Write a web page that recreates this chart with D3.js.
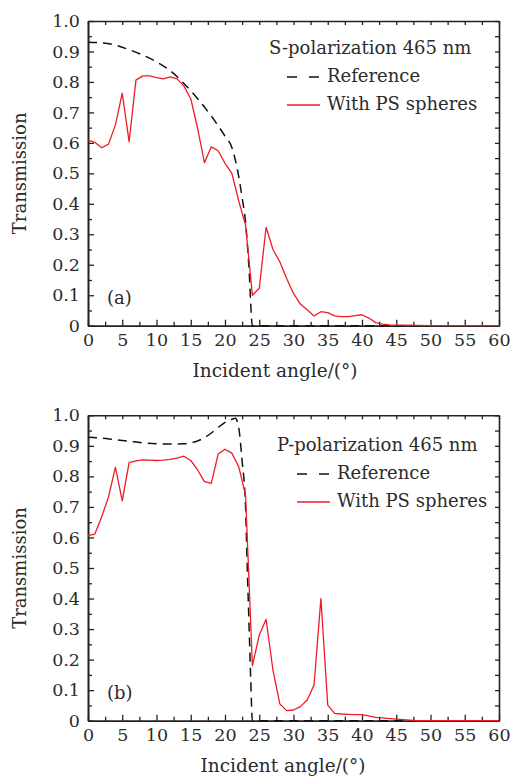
<!DOCTYPE html>
<html>
<head>
<meta charset="utf-8">
<script src="https://cdn.jsdelivr.net/npm/d3@7"></script>
<style>
  body { margin: 0; background: #fff; }
  text { font-family: "DejaVu Serif", serif; fill: #2b2b2b; }
</style>
</head>
<body>
<div id="chart"></div>
<script>
// angles (deg) and transmission values
var anglesS = [0,1,2,3,4,5,6,7,8,9,10,11,12,13,14,15,16,17,18,19,20,21,22,23,24,25,26,27,28,29,30,31,32,33,34,35,36,37,38,39,40,41,42,43,44,45,46,47,48,50,55,60];
var psS = [0.609,0.602,0.584,0.596,0.659,0.763,0.604,0.806,0.820,0.820,0.814,0.810,0.817,0.810,0.787,0.745,0.648,0.535,0.587,0.574,0.533,0.500,0.410,0.330,0.100,0.123,0.323,0.250,0.210,0.155,0.106,0.071,0.052,0.032,0.046,0.043,0.032,0.030,0.030,0.033,0.036,0.025,0.010,0.005,0.003,0.002,0.002,0.002,0.001,0,0,0];
var refAnglesS = [0,2,4,6,8,10,12,14,16,18,20,21,22,22.5,23,23.5,24,60];
var refS = [0.930,0.928,0.921,0.906,0.888,0.866,0.837,0.795,0.745,0.688,0.622,0.585,0.490,0.420,0.340,0.190,0,0];

var anglesP = [0,1,2,3,4,5,6,7,8,9,10,11,12,13,14,15,16,17,18,19,20,21,22,23,24,25,26,27,28,29,30,31,32,33,34,35,36,37,38,39,40,42,45,48,50,55,60];
var psP = [0.606,0.611,0.668,0.733,0.830,0.720,0.845,0.851,0.854,0.853,0.852,0.853,0.856,0.860,0.866,0.852,0.821,0.783,0.777,0.873,0.889,0.876,0.832,0.739,0.180,0.280,0.332,0.166,0.055,0.033,0.035,0.046,0.068,0.117,0.400,0.051,0.024,0.022,0.021,0.020,0.020,0.011,0.005,0,0,0,0];
var refAnglesP = [0,2,4,6,8,10,12,14,15,16,17,18,19,20,21,21.5,22,22.5,23,23.25,23.5,23.75,24,60];
var refP = [0.928,0.925,0.920,0.915,0.910,0.907,0.906,0.907,0.910,0.916,0.927,0.942,0.960,0.977,0.987,0.990,0.960,0.850,0.700,0.500,0.320,0.140,0,0];

var xMajor = [0,5,10,15,20,25,30,35,40,45,50,55,60];
var xMinor = [2.5,7.5,12.5,17.5,22.5,27.5,32.5,37.5,42.5,47.5,52.5,57.5];
var yMajor = [0,0.1,0.2,0.3,0.4,0.5,0.6,0.7,0.8,0.9,1.0];
var yMinor = [0.05,0.15,0.25,0.35,0.45,0.55,0.65,0.75,0.85,0.95];

var W = 512, H = 776;
var svg = d3.select("#chart").append("svg").attr("width", W).attr("height", H);

var x = d3.scaleLinear().domain([0, 60]).range([88, 499]);

function drawPanel(top, bottom, cfg) {
  var y = d3.scaleLinear().domain([0, 1]).range([bottom, top]);
  var g = svg.append("g");
  var yFmt = function(d) { return d === 0 ? "0" : d3.format(".1f")(d); };

  // frame + ticks
  g.append("g").attr("transform", "translate(0," + bottom + ")")
    .call(d3.axisBottom(x).tickValues(xMajor).tickSize(-6).tickSizeOuter(0).tickPadding(5).tickFormat(d3.format("d")))
    .call(s => s.selectAll("text").attr("font-size", 17.5).attr("dy", "0.9em"));
  g.append("g").attr("transform", "translate(0," + bottom + ")")
    .call(d3.axisBottom(x).tickValues(xMinor).tickSize(-4).tickSizeOuter(0).tickFormat(""));
  g.append("g").attr("transform", "translate(0," + top + ")")
    .call(d3.axisTop(x).tickValues(xMajor.concat(xMinor)).tickSize(-4).tickSizeOuter(0).tickFormat(""));
  g.append("g").attr("transform", "translate(88,0)")
    .call(d3.axisLeft(y).tickValues(yMajor).tickSize(-6).tickSizeOuter(0).tickPadding(8).tickFormat(yFmt))
    .call(s => s.selectAll("text").attr("font-size", 17.5));
  g.append("g").attr("transform", "translate(88,0)")
    .call(d3.axisLeft(y).tickValues(yMinor).tickSize(-4).tickSizeOuter(0).tickFormat(""));
  g.append("g").attr("transform", "translate(499,0)")
    .call(d3.axisRight(y).tickValues(yMajor.concat(yMinor)).tickSize(-4).tickSizeOuter(0).tickFormat(""));
  g.selectAll(".domain").attr("stroke", "#222").attr("stroke-width", 1.6);
  g.selectAll(".tick line").attr("stroke", "#222").attr("stroke-width", 1.3);
  g.selectAll(".tick text").attr("fill", "#2b2b2b").attr("font-family", "DejaVu Serif, serif");

  // axis titles
  g.append("text").attr("x", cfg.titleX).attr("y", bottom + 51).attr("text-anchor", "middle")
    .attr("font-size", 18.5).text("Incident angle/(\u00b0)");
  g.append("text").attr("transform", "translate(26," + ((top + bottom) / 2) + ") rotate(-90)")
    .attr("text-anchor", "middle").attr("font-size", 18).text("Transmission");

  // data
  var refLine = d3.line().x(d => x(d[0])).y(d => y(d[1])).curve(d3.curveMonotoneX);
  var psLine = d3.line().x(d => x(d[0])).y(d => y(d[1]));
  g.append("path").datum(d3.zip(cfg.refAngles, cfg.ref))
    .attr("d", refLine).attr("fill", "none").attr("stroke", "#111")
    .attr("stroke-width", 1.5).attr("stroke-dasharray", "9,6");
  g.append("path").datum(d3.zip(cfg.angles, cfg.ps))
    .attr("d", psLine).attr("fill", "none").attr("stroke", "#ee1c25")
    .attr("stroke-width", 1.3).attr("stroke-linejoin", "round");

  // legend
  var L = cfg.legend;
  g.append("text").attr("x", L.x).attr("y", L.y).attr("font-size", 18).text(cfg.title);
  g.append("line").attr("x1", L.x + L.ind).attr("x2", L.x + L.ind + 33)
    .attr("y1", L.y + 23).attr("y2", L.y + 23)
    .attr("stroke", "#111").attr("stroke-width", 1.5).attr("stroke-dasharray", "10,12");
  g.append("text").attr("x", L.x + L.ind + 40).attr("y", L.y + 28).attr("font-size", 18).text("Reference");
  g.append("line").attr("x1", L.x + L.ind).attr("x2", L.x + L.ind + 33)
    .attr("y1", L.y + 51).attr("y2", L.y + 51)
    .attr("stroke", "#ee1c25").attr("stroke-width", 1.3);
  g.append("text").attr("x", L.x + L.ind + 40).attr("y", L.y + 56).attr("font-size", 18).text("With PS spheres");

  g.append("text").attr("x", 107).attr("y", bottom - 22).attr("font-size", 18).text(cfg.tag);
}

drawPanel(21, 325.7, {
  angles: anglesS, ps: psS, refAngles: refAnglesS, ref: refS,
  title: "S-polarization 465 nm", tag: "(a)", titleX: 275,
  legend: { x: 269, y: 54, ind: 18 }
});
drawPanel(415.3, 720.7, {
  angles: anglesP, ps: psP, refAngles: refAnglesP, ref: refP,
  title: "P-polarization 465 nm", tag: "(b)", titleX: 283,
  legend: { x: 277, y: 451, ind: 20 }
});
</script>
</body>
</html>
